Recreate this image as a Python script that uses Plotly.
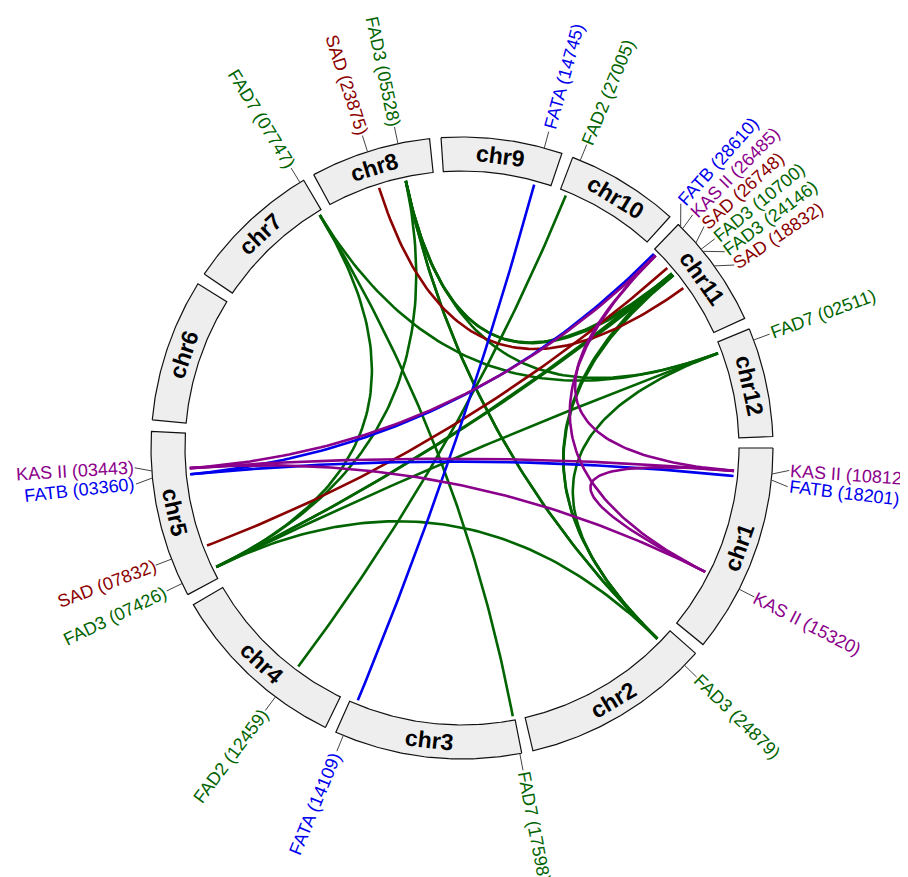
import math
import plotly.graph_objects as go

# ---------------- data ----------------
chrom_names = ["chr1", "chr2", "chr3", "chr4", "chr5", "chr6",
               "chr7", "chr8", "chr9", "chr10", "chr11", "chr12"]
chrom_lengths = [39.2, 35.5, 35.0, 33.7, 31.2, 26.7, 25.4, 22.5, 22.6, 21.1, 21.3, 20.4]

gene_families = ["KAS II", "FATB", "KAS II", "FAD3", "FAD7", "FATA", "FAD2", "FAD3",
                 "SAD", "FATB", "KAS II", "FAD7", "SAD", "FAD3", "FATA", "FAD2",
                 "FATB", "KAS II", "SAD", "FAD3", "FAD3", "SAD", "FAD7"]
gene_ids = ["10812", "18201", "15320", "24879", "17598", "14109", "12459", "07426",
            "07832", "03360", "03443", "07747", "23875", "05528", "14745", "27005",
            "28610", "26485", "26748", "10700", "24146", "18832", "02511"]
gene_chroms = ["chr1", "chr1", "chr1", "chr2", "chr3", "chr3", "chr4", "chr5",
               "chr5", "chr5", "chr5", "chr7", "chr8", "chr8", "chr9", "chr10",
               "chr11", "chr11", "chr11", "chr11", "chr11", "chr11", "chr12"]
gene_positions = [4.8, 5.9, 27.0, 3.0, 0.35, 33.5, 10.8, 2.3,
                  7.2, 22.6, 23.9, 24.6, 10.8, 16.6, 19.2, 1.5,
                  0.6, 1.1, 4.7, 6.2, 6.7, 10.1, 2.2]

link_from = ["05528", "07747", "05528", "07747", "05528", "05528", "05528", "07747",
             "05528", "07426", "07426", "07426", "07426", "10700", "24146", "02511",
             "27005",
             "23875", "26748",
             "14745", "28610", "03360",
             "26485", "26485", "26485", "03443", "03443", "10812"]
link_to = ["07426", "07426", "24879", "17598", "10700", "24146", "02511", "02511",
           "24879", "10700", "24146", "02511", "24879", "24879", "24879", "24879",
           "12459",
           "18832", "07832",
           "14109", "03360", "18201",
           "03443", "10812", "15320", "10812", "15320", "15320"]

family_colors = {"FAD2": "#006400", "FAD3": "#006400", "FAD7": "#006400",
                 "SAD": "#8B0000", "FATA": "#0000EE", "FATB": "#0000EE",
                 "KAS II": "#8B008B"}

# ---------------- geometry ----------------
PAGE_W, PAGE_H = 908, 877
OFF = 8  # page body margin
W, H = PAGE_W - OFF, PAGE_H - OFF
CX, CY = 462.0, 448.0
R_OUT, R_IN = 311.0, 277.0
R_LINK = 273.0
R_TICK = R_OUT + 17
R_TEXT = R_OUT + 16.5
GAP = (360.0 - sum(chrom_lengths)) / len(chrom_lengths)
START = 0.0

chrom_start = {}
a = START
for n, L in zip(chrom_names, chrom_lengths):
    chrom_start[n] = a
    a += L + GAP


def pt(theta, r):
    t = math.radians(theta)
    return CX + r * math.cos(t), CY + r * math.sin(t)


gene_angle = [chrom_start[c] + p for c, p in zip(gene_chroms, gene_positions)]
gid_index = {g: i for i, g in enumerate(gene_ids)}

fig = go.Figure()

# chromosome bands
for n, L in zip(chrom_names, chrom_lengths):
    s = chrom_start[n]
    e = s + L
    steps = max(int(L * 2), 10)
    xs, ys = [], []
    for k in range(steps + 1):
        x, y = pt(s + (e - s) * k / steps, R_OUT)
        xs.append(x); ys.append(y)
    for k in range(steps, -1, -1):
        x, y = pt(s + (e - s) * k / steps, R_IN)
        xs.append(x); ys.append(y)
    xs.append(xs[0]); ys.append(ys[0])
    fig.add_trace(go.Scatter(x=xs, y=ys, mode="lines", fill="toself",
                             fillcolor="#EEEEEE", line=dict(color="#111111", width=1.2),
                             hoverinfo="skip", showlegend=False))

# links (quadratic bezier through centre)
order = ["#006400", "#8B0000", "#0000EE", "#8B008B"]
by_color = {c: ([], []) for c in order}
for f, t in zip(link_from, link_to):
    i, j = gid_index[f], gid_index[t]
    col = family_colors[gene_families[i]]
    x0, y0 = pt(gene_angle[i], R_LINK)
    x2, y2 = pt(gene_angle[j], R_LINK)
    xs, ys = by_color[col]
    n = 80
    for k in range(n + 1):
        u = k / n
        xs.append((1 - u) ** 2 * x0 + 2 * u * (1 - u) * CX + u ** 2 * x2)
        ys.append((1 - u) ** 2 * y0 + 2 * u * (1 - u) * CY + u ** 2 * y2)
    xs.append(None); ys.append(None)
for col in order:
    xs, ys = by_color[col]
    fig.add_trace(go.Scatter(x=xs, y=ys, mode="lines", line=dict(color=col, width=2.6),
                             hoverinfo="skip", showlegend=False))

# label spreading
MIN_SEP = 2.85
idx_sorted = sorted(range(len(gene_angle)), key=lambda k: gene_angle[k])
clusters = [[k] for k in idx_sorted]
label_angle = dict((k, gene_angle[k]) for k in idx_sorted)


def place(cl):
    m = sum(gene_angle[k] for k in cl) / len(cl)
    n = len(cl)
    for q, k in enumerate(cl):
        label_angle[k] = m + (q - (n - 1) / 2) * MIN_SEP


changed = True
while changed:
    changed = False
    for ci in range(len(clusters) - 1):
        last = label_angle[clusters[ci][-1]]
        first = label_angle[clusters[ci + 1][0]]
        if first - last < MIN_SEP - 1e-9:
            clusters[ci] = clusters[ci] + clusters[ci + 1]
            del clusters[ci + 1]
            place(clusters[ci])
            changed = True
            break

# tick connectors
tx, ty = [], []
for k in range(len(gene_angle)):
    x0, y0 = pt(gene_angle[k], R_OUT)
    x1, y1 = pt(label_angle[k], R_TICK)
    tx += [x0, x1, None]; ty += [y0, y1, None]
fig.add_trace(go.Scatter(x=tx, y=ty, mode="lines", line=dict(color="#444444", width=1),
                         hoverinfo="skip", showlegend=False))

# text widths (Arial metrics)
CW = {"F": .611, "A": .667, "D": .722, "T": .611, "B": .667, "K": .667, "S": .667,
      "I": .278, " ": .278, "(": .333, ")": .333}
FS = 18


def text_w(s, fs):
    return sum(CW.get(ch, .556) for ch in s) * fs


annotations = []
for k in range(len(gene_angle)):
    lab = f"{gene_families[k]} ({gene_ids[k]})"
    th = label_angle[k] % 360
    w = text_w(lab, FS) + 2
    cx, cy = pt(th, R_TEXT + w / 2)
    if 90 < th < 270:
        rot = th - 180
    else:
        rot = th if th <= 90 else th - 360
    annotations.append(dict(x=cx, y=cy, xref="x", yref="y", text=lab, showarrow=False,
                            textangle=rot, xanchor="center", yanchor="middle",
                            font=dict(size=FS, color=family_colors[gene_families[k]],
                                      family="Liberation Sans, Arial, sans-serif")))

# chromosome names
for n, L in zip(chrom_names, chrom_lengths):
    m = chrom_start[n] + L / 2
    x, y = pt(m, (R_OUT + R_IN) / 2)
    if 0 < m < 180:
        rot = m - 90
    else:
        rot = m + 90
        if rot > 180:
            rot -= 360
    annotations.append(dict(x=x, y=y, xref="x", yref="y", text=f"<b>{n}</b>",
                            showarrow=False, textangle=rot, xanchor="center",
                            yanchor="middle",
                            font=dict(size=23, color="#000000",
                                      family="Liberation Sans, Arial, sans-serif")))

fig.update_layout(
    width=W, height=H, margin=dict(l=0, r=0, t=0, b=0),
    paper_bgcolor="white", plot_bgcolor="white",
    xaxis=dict(range=[OFF, PAGE_W], visible=False, fixedrange=True),
    yaxis=dict(range=[PAGE_H, OFF], visible=False, fixedrange=True),
    annotations=annotations, showlegend=False,
)
fig.write_html("out.html")
